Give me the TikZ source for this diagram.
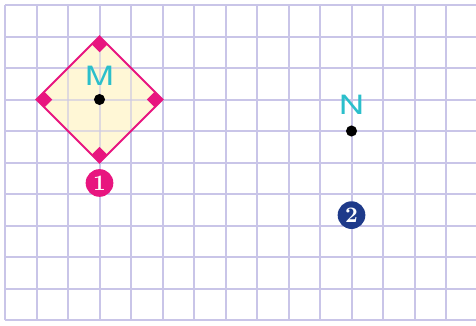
\documentclass[tikz,border=0pt]{standalone}
\usepackage{fontspec}
\setsansfont{TeX Gyre Heros}
\usepackage{xcolor}
\definecolor{gridc}{HTML}{C9C5E8}
\definecolor{rosec}{HTML}{E8157F}
\definecolor{creamc}{HTML}{FFF6CF}
\definecolor{tealc}{HTML}{2BBFCB}
\definecolor{navyc}{HTML}{1E3A8A}

\begin{document}
\begin{tikzpicture}[x=0.5cm,y=0.5cm,
  gridline/.style={gridc,line width=0.9pt},
  side/.style={rosec,line width=0.9pt,line join=miter},
  corner/.style={fill=rosec,draw=none},
  pt/.style={circle,fill=black,inner sep=0pt,minimum size=5pt},
  letter/.style={text=tealc,font=\sffamily\large,inner sep=0pt,
                 xscale=1.3,transform shape},
  badge/.style={circle,inner sep=0pt,minimum size=12.5pt,text=white,
                font=\normalsize\bfseries}]
\useasboundingbox (-0.159,-0.159) rectangle (14.952,10.159);
% squared paper
\foreach \i in {0,...,10}
  \draw[gridline] (0,\i) -- (14.952,\i);
\foreach \j in {0,...,14}
  \draw[gridline] (\j,0) -- (\j,10);
% square round M
\coordinate (mT) at (3,9);
\coordinate (mR) at (5,7);
\coordinate (mB) at (3,5);
\coordinate (mL) at (1,7);
\fill[creamc,opacity=0.85] (mT) -- (mR) -- (mB) -- (mL) -- cycle;
\foreach \j in {1,...,5}
  \draw[gridline,opacity=0.5] (\j,5) -- (\j,9);
\foreach \i in {5,...,9}
  \draw[gridline,opacity=0.5] (1,\i) -- (5,\i);
\draw[side] (mT) -- (mR) -- (mB) -- (mL) -- cycle;
\fill[corner] (mT) -- ++(-0.25,-0.25) -- ++(0.25,-0.25) -- ++(0.25,0.25) -- cycle;
\fill[corner] (mR) -- ++(-0.25,0.25) -- ++(-0.25,-0.25) -- ++(0.25,-0.25) -- cycle;
\fill[corner] (mB) -- ++(-0.25,0.25) -- ++(0.25,0.25) -- ++(0.25,-0.25) -- cycle;
\fill[corner] (mL) -- ++(0.25,0.25) -- ++(0.25,-0.25) -- ++(-0.25,-0.25) -- cycle;
% points
\node[pt] (M) at (3,7) {};
\node[letter] (lblM) at (3,7.74) {M};
\node[pt] (N) at (11,6) {};
\node[letter] (lblN) at (11,6.82) {N};
% badges
\node[badge,fill=rosec] (one) at (3,4.35) {1};
\node[badge,fill=navyc] (two) at (11,3.33) {2};
\end{tikzpicture}
\end{document}
